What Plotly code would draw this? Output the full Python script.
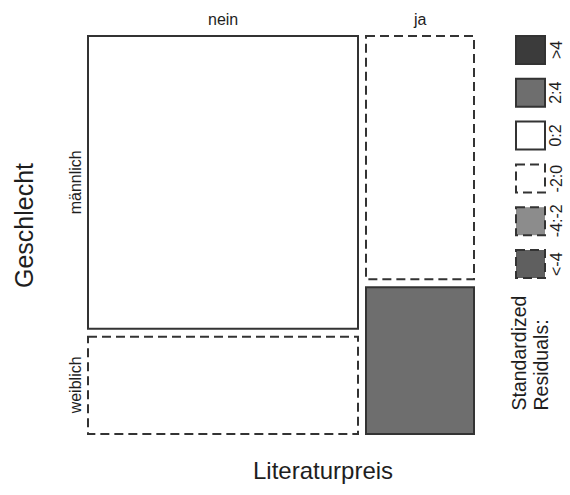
import numpy as np
import plotly.graph_objects as go

# ---- data ----
preis_levels = ["nein", "ja"]                 # Literaturpreis (columns)
geschlecht_levels = ["männlich", "weiblich"]  # Geschlecht (rows)
counts_nein = [469, 156]   # männlich, weiblich
counts_ja = [156, 94]
legend_labels = [">4", "2:4", "0:2", "-2:0", "-4:-2", "<-4"]
legend_fills = ["#3b3b3b", "#6e6e6e", "#ffffff", "#ffffff", "#8c8c8c", "#5f5f5f"]
legend_dash = ["solid", "solid", "solid", "dash", "dash", "dash"]
bin_edges = [4, 2, 0, -2, -4]

# ---- layout geometry ----
W, H = 570, 495
X0, X1 = 88, 474
Y0, Y1 = 36, 434
GAP = 8
LINE = "#333333"
DASH = "9px,5px"
FONT = "Liberation Sans, Arial, sans-serif"
TXT = "#1e1e1e"

tab = np.array([counts_nein, counts_ja], dtype=float)  # rows = preis
N = tab.sum()
col_tot = tab.sum(axis=1)
row_tot = tab.sum(axis=0)
expected = np.outer(col_tot, row_tot) / N
resid = (tab - expected) / np.sqrt(expected)


def category(r):
    for i, e in enumerate(bin_edges):
        if r > e:
            return i
    return len(bin_edges)


fig = go.Figure()
shapes = []
annotations = []

usable_w = (X1 - X0) - GAP * (len(preis_levels) - 1)
usable_h = (Y1 - Y0) - GAP * (len(geschlecht_levels) - 1)
x = X0
for ci, lev in enumerate(preis_levels):
    w = usable_w * col_tot[ci] / N
    y = Y0
    for ri, g in enumerate(geschlecht_levels):
        h = usable_h * tab[ci, ri] / col_tot[ci]
        k = category(resid[ci, ri])
        shapes.append(dict(type="rect", xref="x", yref="y", x0=x, x1=x + w, y0=y, y1=y + h,
                           fillcolor=legend_fills[k],
                           line=dict(color=LINE, width=2,
                                     dash=DASH if legend_dash[k] == "dash" else "solid")))
        if ci == 0:
            annotations.append(dict(x=75, y=y + h / 2, xref="x", yref="y", text=g,
                                    textangle=-90, showarrow=False,
                                    font=dict(size=16, color=TXT, family=FONT)))
        y += h + GAP
    annotations.append(dict(x=x + w / 2, y=19, xref="x", yref="y", text=lev,
                            showarrow=False, font=dict(size=16, color=TXT, family=FONT)))
    x += w + GAP

# legend
LX0, LX1 = 516, 545
LY0, LSTEP, LSIZE = 36, 42.8, 28
for i, lab in enumerate(legend_labels):
    y0 = LY0 + i * LSTEP
    shapes.append(dict(type="rect", xref="x", yref="y", x0=LX0, x1=LX1, y0=y0, y1=y0 + LSIZE,
                       fillcolor=legend_fills[i],
                       line=dict(color=LINE, width=2,
                                 dash=DASH if legend_dash[i] == "dash" else "solid")))
    annotations.append(dict(x=556, y=y0 + LSIZE / 2, xref="x", yref="y", text=lab,
                            textangle=-90, showarrow=False,
                            font=dict(size=16, color=TXT, family=FONT)))

annotations.append(dict(x=518, y=413, xref="x", yref="y", text="Standardized",
                        textangle=-90, showarrow=False, yanchor="bottom",
                        font=dict(size=19.5, color=TXT, family=FONT)))
annotations.append(dict(x=540, y=413, xref="x", yref="y", text="Residuals:",
                        textangle=-90, showarrow=False, yanchor="bottom",
                        font=dict(size=19.5, color=TXT, family=FONT)))
annotations.append(dict(x=24, y=226, xref="x", yref="y", text="Geschlecht",
                        textangle=-90, showarrow=False,
                        font=dict(size=25, color=TXT, family=FONT)))
annotations.append(dict(x=323, y=470, xref="x", yref="y", text="Literaturpreis",
                        showarrow=False, font=dict(size=24, color=TXT, family=FONT)))

fig.update_layout(
    width=W, height=H, margin=dict(l=0, r=0, t=0, b=0),
    paper_bgcolor="white", plot_bgcolor="white",
    xaxis=dict(range=[0, W], visible=False, fixedrange=True),
    yaxis=dict(range=[H, 0], visible=False, fixedrange=True),
    shapes=shapes, annotations=annotations, showlegend=False,
)
fig.write_html("out.html", config={"displayModeBar": False},
               post_script="document.body.style.margin='0';document.body.style.overflow='hidden';")
